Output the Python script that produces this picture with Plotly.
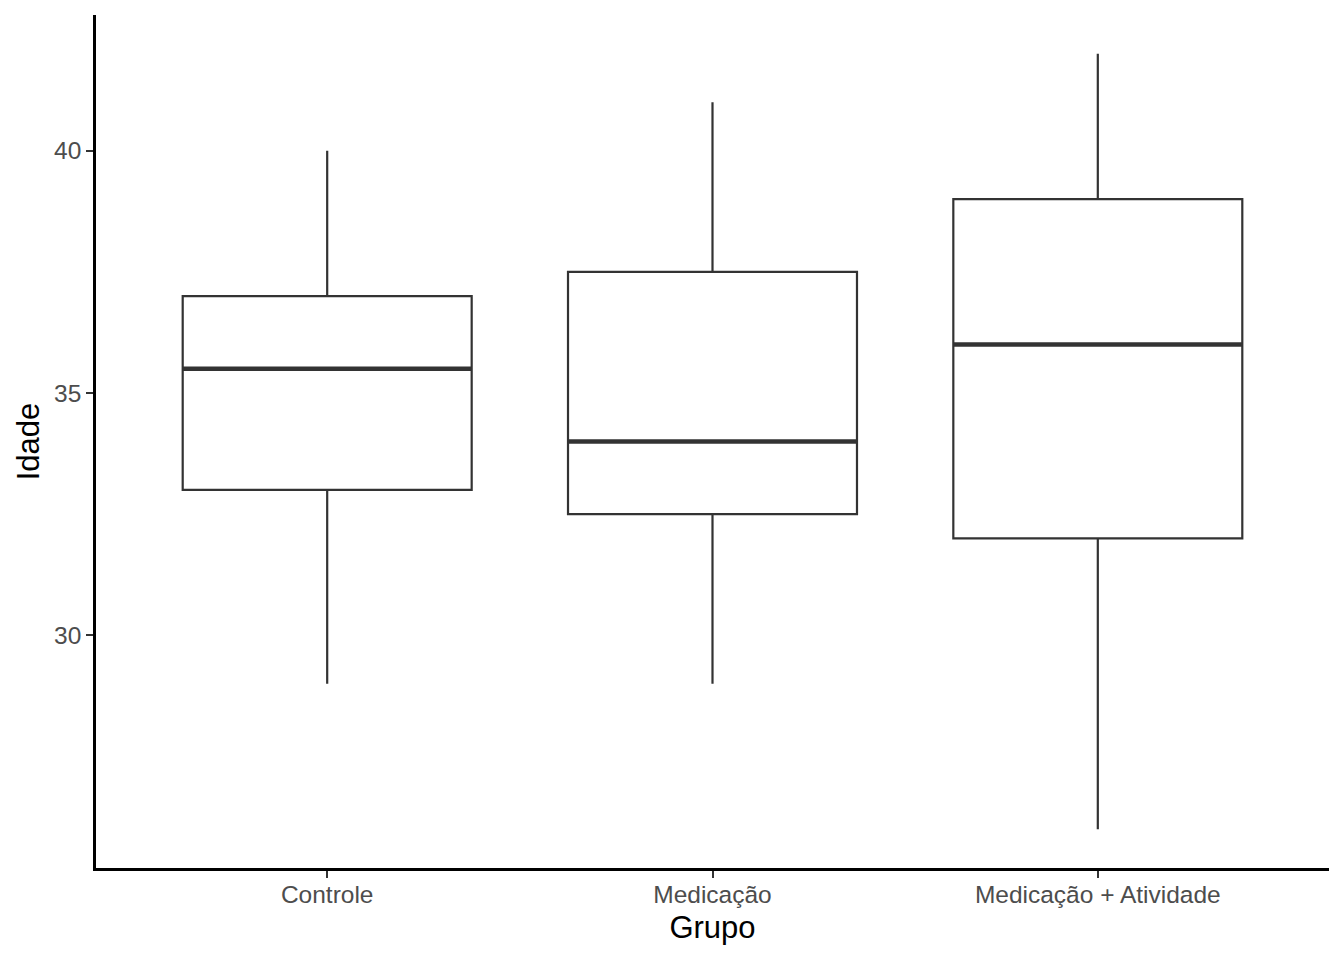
import plotly.graph_objects as go

groups = ["Controle", "Medicação", "Medicação + Atividade"]
lower = [29, 29, 26]
q1 = [33, 32.5, 32]
median = [35.5, 34, 36]
q3 = [37, 37.5, 39]
upper = [40, 41, 42]

xpos = list(range(len(groups)))
box_w = 0.75

fig = go.Figure()
fig.add_trace(go.Box(
    x=xpos, q1=q1, median=median, q3=q3, lowerfence=lower, upperfence=upper,
    width=box_w, whiskerwidth=0, fillcolor="white",
    line=dict(color="#333333", width=2.2), boxpoints=False, showlegend=False,
    hoverinfo="skip",
))
for xi, m in zip(xpos, median):
    fig.add_trace(go.Scatter(
        x=[xi - box_w / 2, xi + box_w / 2], y=[m, m], mode="lines",
        line=dict(color="#333333", width=4.5), showlegend=False, hoverinfo="skip",
    ))

fig.update_layout(
    width=1344, height=960,
    margin=dict(l=88, r=23, t=7, b=100),
    plot_bgcolor="white", paper_bgcolor="white",
    font=dict(family="Liberation Sans, Arial, sans-serif"),
    xaxis=dict(
        range=[-0.6, 2.6], tickmode="array", tickvals=xpos, ticktext=groups,
        showgrid=False, zeroline=False, showline=True, linecolor="black", linewidth=2.5,
        ticks="outside", ticklen=7, tickwidth=2, tickcolor="#333333",
        ticklabelstandoff=-4,
        tickfont=dict(size=24.5, color="#4D4D4D"),
        title=dict(text="Grupo", font=dict(size=31, color="black"), standoff=10),
    ),
    yaxis=dict(
        range=[25.2, 42.8], tickvals=[30, 35, 40],
        showgrid=False, zeroline=False, showline=True, linecolor="black", linewidth=2.5,
        ticks="outside", ticklen=7, tickwidth=2, tickcolor="#333333",
        tickfont=dict(size=24.5, color="#4D4D4D"),
        title=dict(text="Idade", font=dict(size=31, color="black"), standoff=6),
    ),
)

fig.write_html("out.html")
